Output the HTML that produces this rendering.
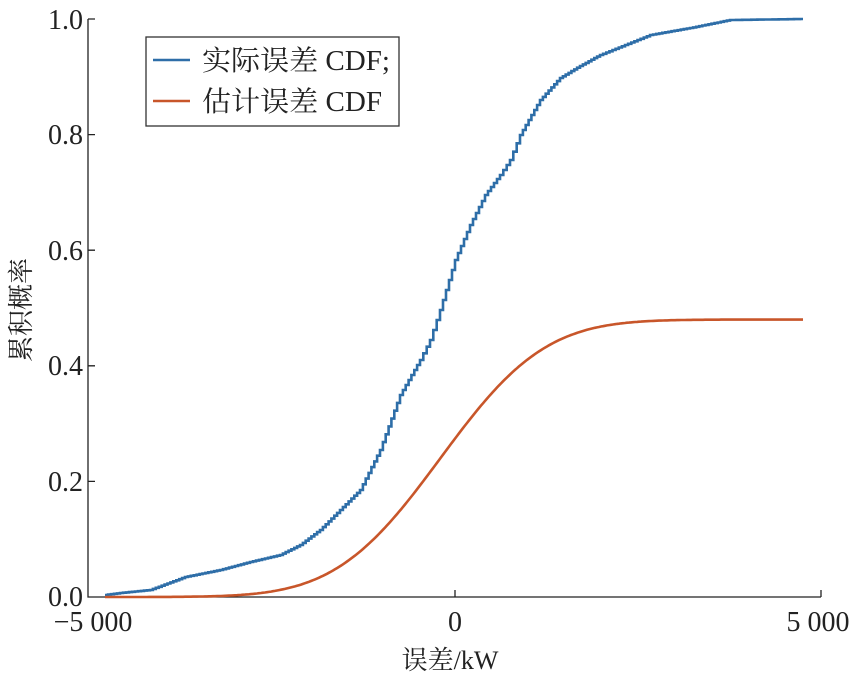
<!DOCTYPE html>
<html><head><meta charset="utf-8"><style>
body{margin:0;background:#fff}
svg{display:block}
text{font-family:"Liberation Serif","Noto Serif CJK SC",serif;fill:#222}
</style></head><body>
<svg id="s" width="857" height="674" viewBox="0 0 857 674">
<g stroke="#222" stroke-width="1.3" fill="none">
<path d="M88,19 V597 H821"/>
<path d="M88,19 h7 M88,134.6 h7 M88,250.2 h7 M88,365.8 h7 M88,481.4 h7 M455,597 v-7 M821,597 v-7"/>
</g>
<g font-size="28" text-anchor="end">
<text x="83" y="29">1.0</text>
<text x="83" y="144">0.8</text>
<text x="83" y="260">0.6</text>
<text x="83" y="375">0.4</text>
<text x="83" y="491">0.2</text>
<text x="83" y="606">0.0</text>
</g>
<g font-size="28" text-anchor="middle">
<text x="93" y="631">−5 000</text>
<text x="455" y="631">0</text>
<text x="818" y="631">5 000</text>
<text x="450" y="669" font-size="26">误差/kW</text>
</g>
<text font-size="26" text-anchor="middle" transform="translate(30,310) rotate(-90)">累积概率</text>
<polyline id="b" fill="none" stroke="#2e6ea8" stroke-width="2.6"/>
<polyline id="o" fill="none" stroke="#c8562a" stroke-width="2.6"/>
<rect x="146" y="37" width="253" height="89" fill="#fff" stroke="#333" stroke-width="1.3"/>
<line x1="153" y1="60" x2="190" y2="60" stroke="#2e6ea8" stroke-width="2.6"/>
<line x1="153" y1="101" x2="190" y2="101" stroke="#c8562a" stroke-width="2.6"/>
<text x="202" y="70" font-size="28" textLength="188" lengthAdjust="spacingAndGlyphs">实际误差 CDF;</text>
<text x="202" y="111" font-size="28" textLength="180" lengthAdjust="spacingAndGlyphs">估计误差 CDF</text>
</svg>
<script>
var P=[[105,595],[120,593],[150,590],[185,577],[220,570],[250,562],[280,555],[300,545],[320,530],[340,510],[360,490],[380,450],[400,395],[420,360],[430,340],[440,310],[455,260],[470,225],[485,195],[500,175],[510,160],[520,135],[540,100],[560,78],[580,66],[600,55],[625,45],[650,35],[690,28],[730,20],[803,19]];
var pts=[];
for(var i=0;i<P.length-1;i++){var a=P[i],c=P[i+1];var n=Math.max(1,Math.round((c[0]-a[0])/3));
for(var k=0;k<n;k++){var x=a[0]+(c[0]-a[0])*k/n,y=a[1]+(c[1]-a[1])*k/n;var x2=a[0]+(c[0]-a[0])*(k+1)/n;
pts.push(x.toFixed(1)+","+y.toFixed(1));pts.push(x2.toFixed(1)+","+y.toFixed(1));}}
pts.push("803,19");
document.getElementById("b").setAttribute("points",pts.join(" "));
function erf(x){var s=x<0?-1:1;x=Math.abs(x);var t=1/(1+0.3275911*x);var y=1-(((((1.061405429*t-1.453152027)*t)+1.421413741)*t-0.284496736)*t+0.254829592)*t*Math.exp(-x*x);return s*y;}
var q=[];for(var x=105;x<=803;x+=2){var v=(x-455)/0.0733;var c=0.48*0.5*(1+erf((v+200)/(1120*Math.SQRT2)));q.push(x+","+(597-c*578).toFixed(1));}
document.getElementById("o").setAttribute("points",q.join(" "));
</script>
</body></html>
